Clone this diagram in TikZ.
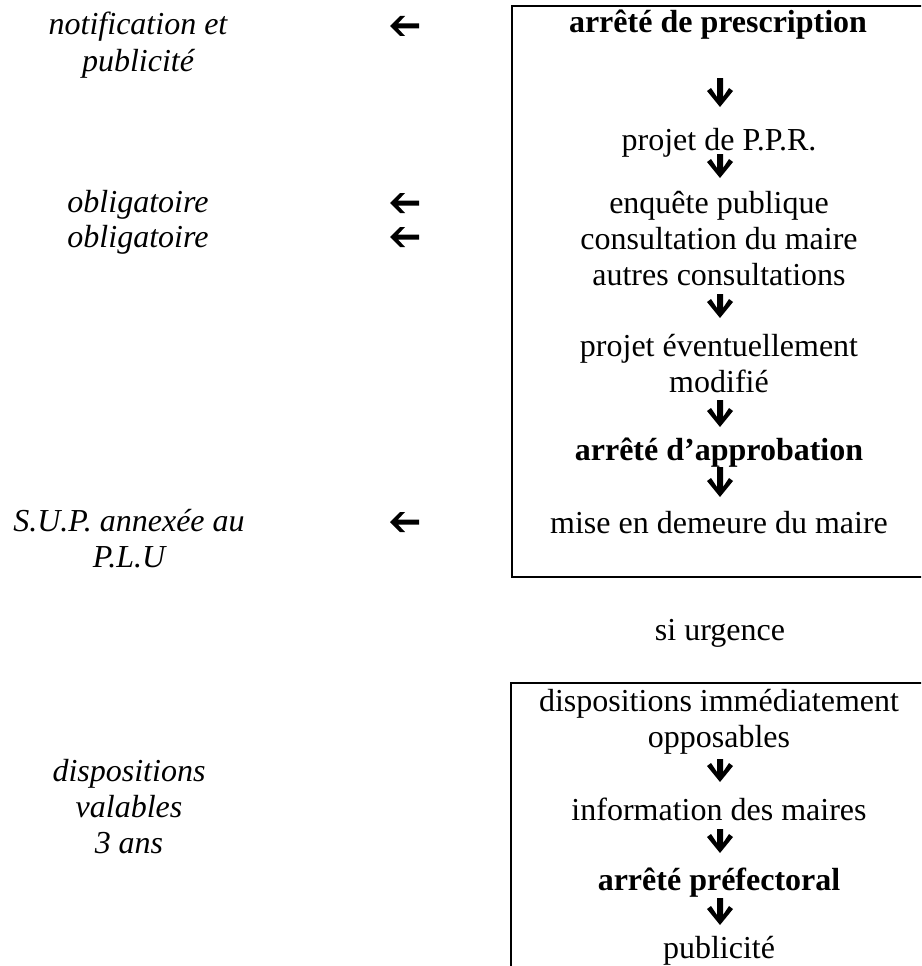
\documentclass[tikz,border=0pt]{standalone}
\usepackage{fontspec}
\setmainfont{Liberation Serif}

\begin{document}
\begin{tikzpicture}[x=1pt,y=-1pt,
    txt/.style={anchor=base, align=center, inner sep=0pt, font=\fontsize{32}{36}\selectfont},
    note/.style={txt, font=\fontsize{32}{36}\selectfont\itshape},
    hd/.style={txt, font=\fontsize{32}{36}\selectfont\bfseries},
    box/.style={draw, line width=1.6pt},
    larrow/.pic={\fill (0,0) -- (10,-10) -- (15,-10) -- (8,-2.5) -- (29,-2.5) -- (29,2.5) -- (8,2.5) -- (15,10) -- (10,10) -- cycle;},
    pics/darrow/.style={code={\fill (0,0) -- (13,-16) -- (9,-19) -- (3,-10) -- (3,-#1) -- (-3,-#1) -- (-3,-10) -- (-9,-19) -- (-13,-16) -- cycle;}}]
    \useasboundingbox (0,0) rectangle (921,966);
    \clip (0,0) rectangle (921,966);

    \draw[box] (512,6) rectangle (940,577);
    \draw[box] (511,683) rectangle (940,990);

    % procedure normale (base = last line)
    \node[hd] (pres) at (718,33) {arrêté de prescription};
    \pic at (720,107) {darrow=29};
    \node[txt] (ppr) at (719,150) {projet de P.P.R.};
    \pic at (720,178) {darrow=24};
    \node[txt] (enq) at (719,285) {enquête publique\\consultation du maire\\autres consultations};
    \pic at (720,318) {darrow=24};
    \node[txt] (mod) at (719,392) {projet éventuellement\\modifié};
    \pic at (720,427) {darrow=27};
    \node[hd] (appro) at (719,460) {arrêté d’approbation};
    \pic at (720,497) {darrow=30};
    \node[txt] (mise) at (719,533) {mise en demeure du maire};

    \node[note] (notif) at (138,71) {notification et\\publicité};
    \pic at (390,26) {larrow};
    \node[note] (obla) at (138,212) {obligatoire};
    \pic at (390,203) {larrow};
    \node[note] (oblb) at (138,247) {obligatoire};
    \pic at (390,237) {larrow};
    \node[note] (sup) at (129,567) {S.U.P. annexée au\\P.L.U};
    \pic at (390,522) {larrow};

    % urgence
    \node[txt] (urg) at (720,640) {si urgence};
    \node[txt] (disp) at (719,747) {dispositions immédiatement\\opposables};
    \pic at (720,782) {darrow=23};
    \node[txt] (info) at (719,820) {information des maires};
    \pic at (720,853) {darrow=24};
    \node[hd] (pref) at (719,890) {arrêté préfectoral};
    \pic at (720,925) {darrow=27};
    \node[txt] (pub) at (719,958) {publicité};

    \node[note] (valid) at (129,853) {dispositions\\valables\\3 ans};
\end{tikzpicture}
\end{document}
